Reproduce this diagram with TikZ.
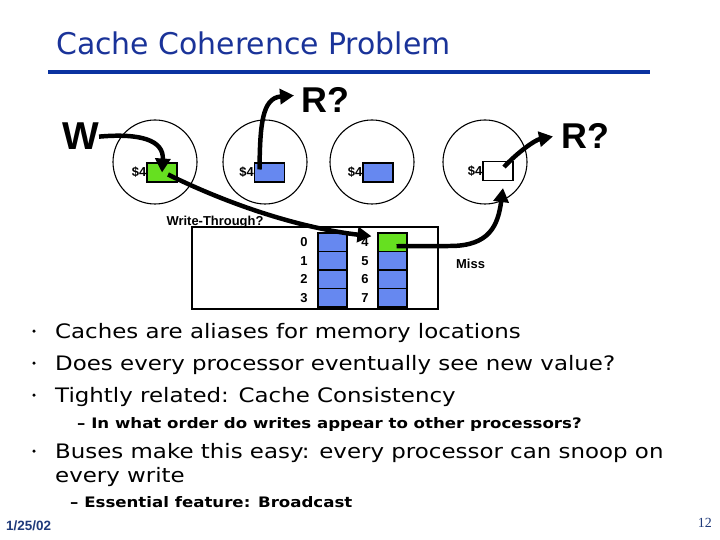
\documentclass[tikz,border=0pt]{standalone}
\usepackage{fontspec}
\setmainfont{DejaVu Sans}
\newfontfamily\widefont[FakeStretch=1.15]{DejaVu Sans}
\newfontfamily\arialfont{Liberation Sans}
\newfontfamily\timesfont{Liberation Serif}
\usetikzlibrary{arrows.meta,calc}
\definecolor{titleblue}{HTML}{1A3399}
\definecolor{ruleblue}{HTML}{0A32A0}
\definecolor{datenavy}{HTML}{1F3A7A}
\definecolor{cellblue}{HTML}{6688F0}
\definecolor{cellgreen}{HTML}{66E020}

\begin{document}
\begin{tikzpicture}[x=1bp,y=-1bp,
  proc/.style={draw,line width=1.1pt,circle,minimum size=84bp,inner sep=0pt},
  cline/.style={draw,line width=1.1pt,minimum width=30bp,minimum height=19bp,inner sep=0pt},
  cell/.style={draw,line width=1.1pt,fill=cellblue,minimum width=29bp,minimum height=18.5bp,inner sep=0pt},
  lbl/.style={font=\arialfont\bfseries\fontsize{13}{15}\selectfont,inner sep=0pt},
  big/.style={line width=4.5pt,-{Triangle[length=14bp,width=15bp]}},
  bullet/.style={circle,fill,inner sep=0pt,minimum size=3.5bp}]
  \useasboundingbox[fill=white] (0,0) rectangle (720,540);
  % title
  \node[anchor=base west,inner sep=0pt,text=titleblue,font=\fontsize{30}{36}\selectfont] (title) at (56,55) {Cache Coherence Problem};
  \draw[ruleblue,line width=4bp] (48,72) -- (650,72);
  % processors and their caches
  \node[proc] (p1) at (155,162) {};
  \node[proc] (p2) at (265,162) {};
  \node[proc] (p3) at (372,162) {};
  \node[proc] (p4) at (485,162) {};
  \node[cline,fill=cellgreen] (c1) at (162,172.5) {};
  \node[cline,fill=cellblue] (c2) at (269.5,172.5) {};
  \node[cline,fill=cellblue] (c3) at (378,172.5) {};
  \node[cline,fill=white] (c4) at (498,171) {};
  \foreach \c in {1,...,4}
    \node[lbl,anchor=east] (d\c) at (c\c.west) {\$4};
  \node[anchor=base west,inner sep=0pt,font=\arialfont\bfseries\fontsize{39}{40}\selectfont] (W) at (62,150) {W};
  \node[anchor=base west,inner sep=0pt,font=\arialfont\bfseries\fontsize{36}{40}\selectfont] (R2) at (301,113) {R?};
  \node[anchor=base west,inner sep=0pt,font=\arialfont\bfseries\fontsize{36}{40}\selectfont] (R4) at (561,149) {R?};
  % memory
  \node[draw,line width=1.1pt,minimum width=246bp,minimum height=82bp,inner sep=0pt] (mem) at (315,268) {};
  \node[lbl,anchor=base] (wt) at (215,226) {Write-Through?};
  \foreach \i in {0,...,3} {
    \node[cell] (m\i) at (332.5,{242.25+18.5*\i}) {};
    \node[lbl] (n\i) at (304,{242.25+18.5*\i}) {\i};
  }
  \foreach \i/\j in {4/0,5/1,6/2,7/3} {
    \node[cell] (m\i) at (392.5,{242.25+18.5*\j}) {};
    \node[lbl] (n\i) at (365,{242.25+18.5*\j}) {\i};
  }
  \node[cell,fill=cellgreen] at (m4) {};
  \node[lbl,anchor=base west] (miss) at (456,269) {Miss};
  % arrows
  \draw[big] (W.east) .. controls (140,133) and (164,140) .. (c1.center);
  \draw[big] ($(c2.center)+(-10,-3)$) .. controls (260,125) and (262,98) .. ($(R2.west)+(-7,-5)$);
  \draw[big] ($(c4.center)+(6,-4)$) .. controls (518,152) and (535,140) .. ($(R4.west)+(-8,0)$);
  \draw[big] ($(c1.center)+(6,2)$) .. controls (230,205) and (300,228) .. ($(m4.west)+(-6,-6)$);
  \draw[big] ($(m4.center)+(4,4)$) -- (450,246) .. controls (490,246) and (498,225) .. ($(c4.south)+(5,7)$);
  % bullets
  \node[bullet] (b1) at (34,331) {};
  \node[bullet] (b2) at (34,363) {};
  \node[bullet] (b3) at (34,395) {};
  \node[bullet] (b4) at (34,451) {};
  \begin{scope}[every node/.style={anchor=base west,inner sep=0pt,font=\widefont\fontsize{20}{24}\selectfont}]
    \node (t1) at (55,338) {Caches are aliases for memory locations};
    \node (t2) at (55,370) {Does every processor eventually see new value?};
    \node (t3) at (55,402) {Tightly related: Cache Consistency};
    \node (t4) at (55,458) {Buses make this easy: every processor can snoop on};
    \node (t5) at (55,482) {every write};
  \end{scope}
  \begin{scope}[every node/.style={anchor=base west,inner sep=0pt,font=\widefont\bfseries\fontsize{14.5}{18}\selectfont}]
    \node (s1) at (77,428) {– In what order do writes appear to other processors?};
    \node (s2) at (70,507) {– Essential feature: Broadcast};
  \end{scope}
  % footer
  \node[anchor=base west,inner sep=0pt,text=datenavy,font=\arialfont\bfseries\fontsize{13.5}{16}\selectfont] (date) at (6,530) {1/25/02};
  \node[anchor=base east,inner sep=0pt,text=datenavy,font=\timesfont\fontsize{14}{16}\selectfont] (page) at (712,527) {12};
\end{tikzpicture}
\end{document}
